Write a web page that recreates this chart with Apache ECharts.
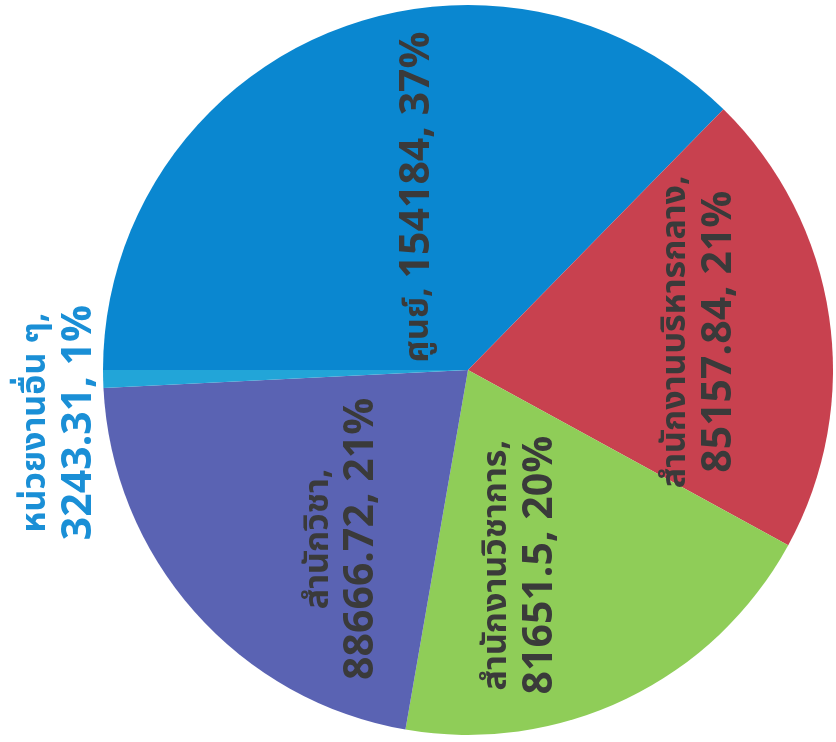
<!DOCTYPE html>
<html><head><meta charset="utf-8">
<script src="https://cdn.jsdelivr.net/npm/echarts@6/dist/echarts.min.js"></script>
<style>html,body{margin:0;padding:0;background:#fff}#c{width:836px;height:742px}</style>
</head><body><div id="c"></div>
<script>
var categories = ['ศูนย์', 'สำนักงานบริหารกลาง', 'สำนักงานวิชาการ', 'สำนักวิชา', 'หน่วยงานอื่น ๆ'];
var values = [154184, 85157.84, 81651.5, 88666.72, 3243.31];
var colors = ['#0a87d0', '#c8414f', '#8fcd58', '#5a63b3', '#22a5d8'];
// screen-space label shifts from the default inside position
var labelShift = [[25, -2], [49, -11], [-27, 28], [14, 46], [-222, 48]];

var chart = echarts.init(document.getElementById('c'), null, {renderer: 'canvas'});
var FONT = '"Noto Sans Thai", "Noto Sans", "DejaVu Sans", sans-serif';
function rich(color) {
  return {
    n: {fontFamily: FONT, fontSize: 34, fontWeight: 'bold', color: color, lineHeight: 44},
    v: {fontFamily: FONT, fontSize: 41, fontWeight: 'bold', color: color, lineHeight: 44}
  };
}
var data = categories.map(function (n, i) {
  var col = i === 4 ? '#1a8fd6' : '#3a3a3a';
  return {
    name: n, value: values[i],
    itemStyle: {color: colors[i]},
    label: {
      formatter: i === 0 ? '{n|{b},} {v|{c}, {d}%}' : '{n|{b},}\n{v|{c}, {d}%}',
      color: col,
      rich: rich(col)
    }
  };
});
chart.setOption({
  backgroundColor: '#ffffff',
  animation: false,
  series: [{
    type: 'pie',
    center: [468, 370],
    radius: 365,
    startAngle: 180,
    clockwise: true,
    percentPrecision: 0,
    avoidLabelOverlap: false,
    label: {
      show: true,
      position: 'inside',
      rotate: 90,
      fontFamily: FONT,
      fontSize: 34,
      fontWeight: 'bold',
      lineHeight: 44
    },
    labelLine: {show: false},
    labelLayout: function (p) {
      var s = labelShift[p.dataIndex];
      // label is rotated 90deg, so local dx/dy map to screen (dy, -dx)
      return {dx: -s[1], dy: s[0]};
    },
    data: data
  }]
});
</script></body></html>
